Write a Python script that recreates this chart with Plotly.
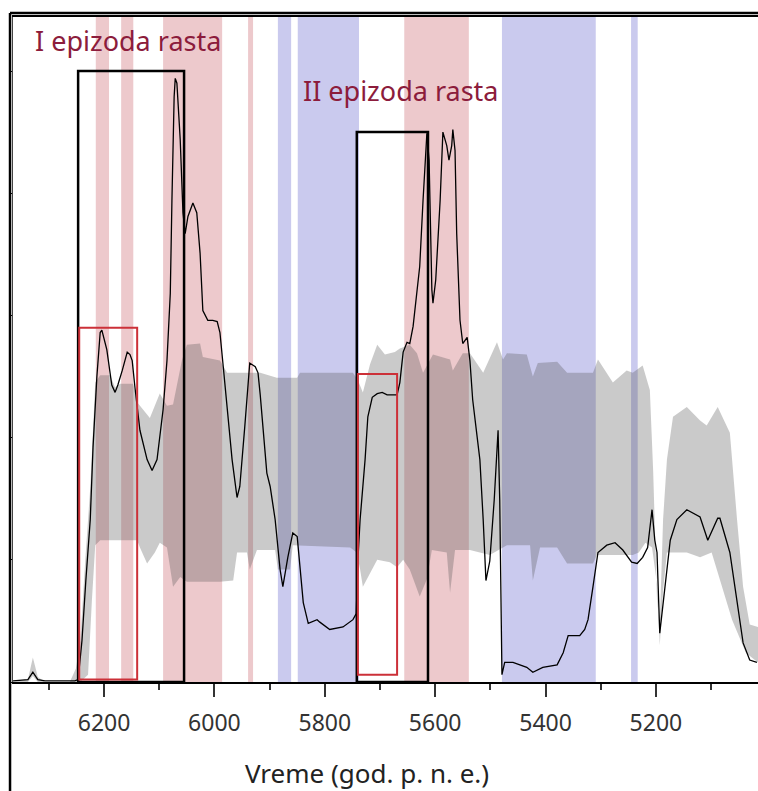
import plotly.graph_objects as go

# Years (god. p. n. e.) and summed-probability values of the main curve
line_years = [6365, 6338, 6329, 6320, 6307, 6253, 6247, 6240, 6233, 6225, 6220, 6213, 6207, 6204,
              6195, 6186, 6180, 6175, 6167, 6158, 6153, 6149, 6144, 6135, 6122, 6113, 6104, 6093,
              6086, 6080, 6077, 6075, 6073, 6071, 6068, 6062, 6057, 6053, 6048, 6039, 6032, 6026,
              6021, 6012, 6003, 5995, 5990, 5984, 5977, 5968, 5959, 5954, 5945, 5936, 5926, 5921,
              5917, 5912, 5905, 5899, 5890, 5881, 5876, 5867, 5858, 5850, 5845, 5839, 5830, 5814,
              5809, 5791, 5767, 5749, 5743, 5740, 5736, 5727, 5722, 5714, 5705, 5696, 5687, 5669,
              5664, 5658, 5651, 5646, 5640, 5633, 5628, 5622, 5618, 5615, 5611, 5606, 5604, 5599,
              5591, 5588, 5586, 5579, 5575, 5570, 5568, 5564, 5561, 5555, 5550, 5542, 5537, 5532,
              5519, 5513, 5508, 5501, 5493, 5486, 5483, 5479, 5474, 5459, 5434, 5423, 5405, 5379,
              5368, 5359, 5338, 5329, 5323, 5314, 5305, 5289, 5274, 5260, 5244, 5234, 5224, 5215,
              5211, 5207, 5202, 5198, 5193, 5187, 5174, 5162, 5144, 5120, 5106, 5088, 5084, 5066,
              5053, 5042, 5030, 5017]
line_vals = [0.01, 0.02, 0.08, 0.02, 0.01, 0.01, 0.02, 0.34, 0.83, 1.33, 1.92, 2.50, 2.86, 2.88,
             2.72, 2.43, 2.37, 2.43, 2.55, 2.70, 2.68, 2.63, 2.41, 2.06, 1.82, 1.73, 1.82, 2.23,
             2.63, 3.18, 3.94, 4.44, 4.79, 4.94, 4.90, 4.44, 3.84, 3.67, 3.81, 3.92, 3.84, 3.51,
             3.04, 2.96, 2.96, 2.95, 2.86, 2.58, 2.23, 1.82, 1.51, 1.60, 2.09, 2.61, 2.58, 2.53,
             2.35, 2.09, 1.71, 1.60, 1.33, 0.92, 0.78, 1.02, 1.22, 1.19, 0.92, 0.65, 0.48, 0.51,
             0.49, 0.43, 0.45, 0.51, 0.56, 1.00, 1.33, 1.82, 2.17, 2.33, 2.36, 2.37, 2.35, 2.35,
             2.45, 2.70, 2.78, 2.77, 2.91, 3.23, 3.40, 3.94, 4.21, 4.49, 4.27, 3.21, 3.10, 3.29,
             3.94, 4.35, 4.50, 4.39, 4.27, 4.39, 4.52, 4.35, 3.67, 2.96, 2.77, 2.82, 2.63, 2.31,
             1.82, 1.33, 0.83, 0.99, 1.49, 2.06, 1.49, 0.06, 0.16, 0.16, 0.12, 0.08, 0.12, 0.14,
             0.24, 0.38, 0.38, 0.43, 0.51, 0.78, 1.06, 1.12, 1.14, 1.08, 0.98, 0.97, 1.02, 1.10,
             1.24, 1.41, 1.16, 1.06, 0.40, 0.65, 1.16, 1.33, 1.41, 1.35, 1.16, 1.34, 1.34, 1.06,
             0.65, 0.32, 0.18, 0.16]

# Upper and lower limits of the simulated (null-model) envelope
upper_years = [6365, 6338, 6329, 6320, 6307, 6262, 6251, 6243, 6234, 6225, 6216, 6207, 6189, 6180,
               6171, 6147, 6140, 6117, 6099, 6086, 6075, 6059, 6050, 6026, 6021, 5990, 5977, 5917,
               5887, 5850, 5845, 5749, 5740, 5731, 5718, 5705, 5691, 5673, 5664, 5646, 5633, 5622,
               5604, 5573, 5568, 5550, 5537, 5513, 5488, 5477, 5470, 5434, 5423, 5414, 5379, 5361,
               5314, 5305, 5278, 5253, 5242, 5224, 5211, 5205, 5198, 5193, 5187, 5180, 5169, 5144,
               5120, 5108, 5088, 5066, 5053, 5042, 5030, 5015]
upper_vals = [0.00, 0.02, 0.20, 0.04, 0.00, 0.00, 0.11, 0.34, 1.00, 1.59, 2.45, 2.51, 2.51, 2.41,
              2.44, 2.44, 2.29, 2.16, 2.36, 2.26, 2.27, 2.63, 2.76, 2.77, 2.66, 2.63, 2.53, 2.53,
              2.49, 2.49, 2.53, 2.53, 2.47, 2.37, 2.60, 2.76, 2.68, 2.70, 2.73, 2.76, 2.69, 2.53,
              2.68, 2.64, 2.55, 2.69, 2.69, 2.53, 2.78, 2.64, 2.69, 2.68, 2.50, 2.61, 2.62, 2.53,
              2.53, 2.64, 2.45, 2.55, 2.53, 2.59, 2.39, 1.73, 0.67, 0.47, 1.33, 1.82, 2.17, 2.25,
              2.14, 2.10, 2.25, 2.04, 1.33, 0.78, 0.47, 0.45]
lower_years = [6365, 6338, 6329, 6320, 6243, 6229, 6222, 6216, 6207, 6140, 6135, 6122, 6108, 6099,
               6086, 6075, 6062, 6050, 5990, 5966, 5959, 5941, 5936, 5923, 5890, 5885, 5863, 5858,
               5754, 5742, 5736, 5731, 5705, 5682, 5669, 5658, 5646, 5628, 5615, 5606, 5579, 5573,
               5564, 5537, 5501, 5470, 5428, 5423, 5410, 5379, 5361, 5314, 5307, 5242, 5231, 5219,
               5207, 5198, 5193, 5187, 5180, 5144, 5120, 5099, 5062, 5037, 5015]
lower_vals = [0.00, 0.00, 0.05, 0.00, 0.00, 0.06, 0.67, 1.12, 1.16, 1.16, 1.10, 0.97, 1.06, 1.14,
              1.10, 0.78, 0.86, 0.82, 0.82, 0.83, 1.06, 1.06, 0.92, 1.08, 1.08, 0.92, 0.92, 1.12,
              1.10, 1.06, 0.92, 0.78, 1.00, 0.98, 0.94, 1.00, 0.92, 0.70, 0.84, 1.08, 1.06, 0.73,
              1.08, 1.08, 1.04, 1.12, 1.12, 0.83, 1.10, 1.10, 0.97, 0.97, 1.04, 1.04, 1.06, 1.14,
              1.10, 0.80, 0.30, 0.75, 1.06, 1.06, 1.02, 1.06, 0.51, 0.24, 0.16]

# Intervals of significant positive (pink) and negative (blue) deviation
pink_bands = [(6215, 6191), (6169, 6147), (6093, 5986), (5939, 5930), (5656, 5539)]
blue_bands = [(5885, 5861), (5849, 5738), (5479, 5309), (5245, 5233)]

# Growth-episode boxes: (start, end, top) and the inner initial-phase boxes
episode_boxes = [(6247, 6055, 5.0), (5742, 5613, 4.5)]
onset_boxes = [(6245, 6140, 0.02, 2.9), (5740, 5669, 0.06, 2.52)]
episode_labels = [("I epizoda rasta", 6329, 5.25), ("II epizoda rasta", 5843, 4.84)]

x_range = [6365, 5015]
y_range = [0, 5.442]

SANS = "Noto Sans, Open Sans, DejaVu Sans, sans-serif"

fig = go.Figure()

fig.add_trace(go.Scatter(
    x=upper_years + lower_years[::-1],
    y=upper_vals + lower_vals[::-1],
    fill="toself", fillcolor="rgba(80,80,80,0.3)",
    mode="lines", line=dict(width=0), hoverinfo="skip", showlegend=False))

fig.add_trace(go.Scatter(
    x=line_years, y=line_vals, mode="lines",
    line=dict(color="black", width=1.3), hoverinfo="skip", showlegend=False))

shapes = []
for a, b in pink_bands:
    shapes.append(dict(type="rect", xref="x", yref="paper", x0=a, x1=b, y0=0, y1=1,
                       fillcolor="#edc9cc", line=dict(width=0), layer="below"))
for a, b in blue_bands:
    shapes.append(dict(type="rect", xref="x", yref="paper", x0=a, x1=b, y0=0, y1=1,
                       fillcolor="#cacaee", line=dict(width=0), layer="below"))
for a, b, top in episode_boxes:
    shapes.append(dict(type="rect", xref="x", yref="y", x0=a, x1=b, y0=0, y1=top,
                       line=dict(color="black", width=2.5), layer="above"))
for a, b, bot, top in onset_boxes:
    shapes.append(dict(type="rect", xref="x", yref="y", x0=a, x1=b, y0=bot, y1=top,
                       line=dict(color="#cc3038", width=2), layer="above"))

# outer frame (top and left edges)
shapes.append(dict(type="line", xref="paper", yref="paper", x0=-0.004, x1=1.0,
                   y0=1.006, y1=1.006, line=dict(color="black", width=2.5)))
shapes.append(dict(type="line", xref="paper", yref="paper", x0=-0.004, x1=-0.004,
                   y0=-0.17, y1=1.006, line=dict(color="black", width=2.5)))

annotations = []
for text, xv, yv in episode_labels:
    annotations.append(dict(text=text, x=xv, y=yv, xref="x", yref="y", showarrow=False,
                            xanchor="left", yanchor="middle",
                            font=dict(family=SANS, size=27, color="#8c1c3c")))
annotations.append(dict(text="Vreme (god. p. n. e.)", x=0.475, y=-0.137, xref="paper",
                        yref="paper", showarrow=False, xanchor="center", yanchor="middle",
                        font=dict(family=SANS, size=26, color="#222222")))

fig.update_layout(
    width=758, height=791,
    margin=dict(l=13, r=0, t=17, b=109),
    paper_bgcolor="white", plot_bgcolor="white",
    shapes=shapes, annotations=annotations,
    showlegend=False,
)

fig.update_xaxes(
    range=x_range, tickmode="linear", tick0=5200, dtick=200,
    ticks="outside", ticklen=13, tickwidth=1.5, tickcolor="#333333",
    showline=True, linecolor="black", linewidth=1.5, mirror=True,
    showgrid=False, zeroline=False, ticklabelstandoff=7,
    tickfont=dict(family=SANS, size=23, color="#333333"),
    minor=dict(ticks="outside", ticklen=6, tickwidth=1.5, tickcolor="#333333", dtick=100,
               showgrid=False),
)
fig.update_yaxes(
    range=y_range, tickmode="linear", tick0=0, dtick=1,
    ticks="outside", ticklen=3, tickcolor="black",
    showline=True, linecolor="#444444", linewidth=1,
    showgrid=False, zeroline=False, showticklabels=False,
)

fig.write_html("out.html", config={"displayModeBar": False})
